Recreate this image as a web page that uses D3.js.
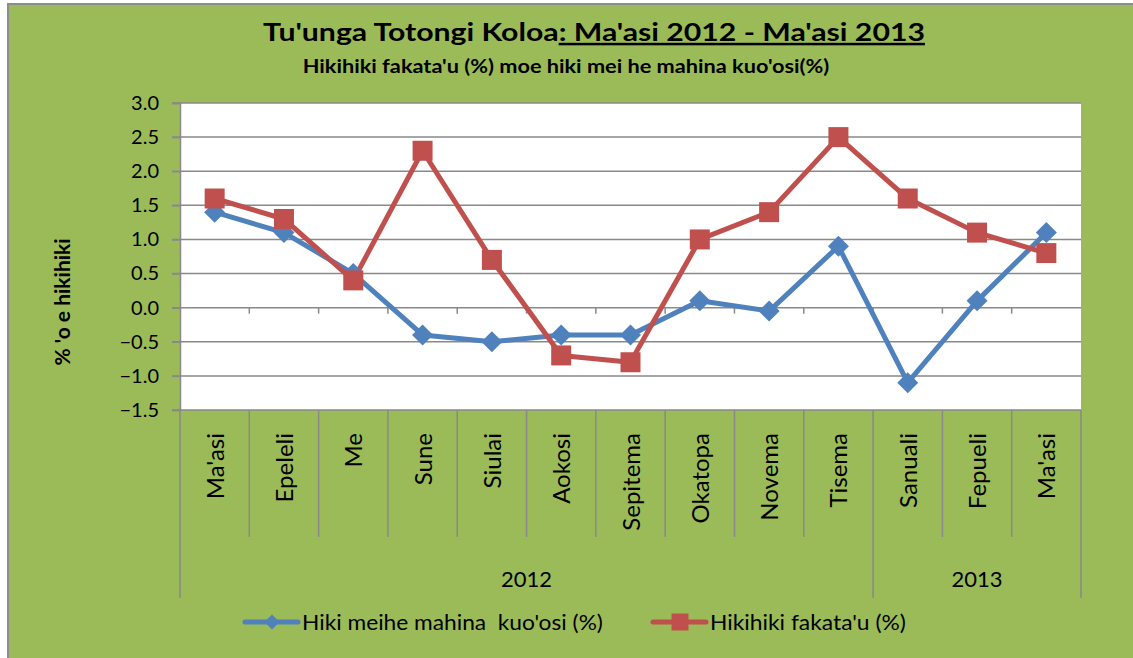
<!DOCTYPE html>
<html>
<head>
<meta charset="utf-8">
<script src="https://cdn.jsdelivr.net/npm/d3@7"></script>
<style>
  body { margin: 0; background: #fff; }
  svg text { font-family: Lato, "Open Sans", sans-serif; fill: #000; white-space: pre; }
</style>
</head>
<body>
<div id="chart"></div>
<script>
/**
 * data
 */
const MONTHS = ["Ma'asi", "Epeleli", "Me", "Sune", "Siulai", "Aokosi", "Sepitema",
                "Okatopa", "Novema", "Tisema", "Sanuali", "Fepueli", "Ma'asi"];
const YEARS = ["2012", "2013"];
const YEAR_SPAN = [10, 3];
const MONTHLY = [1.4, 1.1, 0.5, -0.4, -0.5, -0.4, -0.4, 0.1, -0.05, 0.9, -1.1, 0.1, 1.1];
const ANNUAL = [1.6, 1.3, 0.4, 2.3, 0.7, -0.7, -0.8, 1.0, 1.4, 2.5, 1.6, 1.1, 0.8];
const Y_TICKS = [3.0, 2.5, 2.0, 1.5, 1.0, 0.5, 0.0, -0.5, -1.0, -1.5];
const SERIES_NAMES = ["Hiki meihe mahina  kuo'osi (%)", "Hikihiki fakata'u (%)"];

/**
 * layout constants
 */
const WIDTH = 1133;
const HEIGHT = 658;
const LEFT = 180, RIGHT = 1081, TOP = 103, BOTTOM = 410;
const GRID = "#898989";
const BLUE = "#4F81BD";
const RED = "#C0504D";

const svg = d3.select("#chart").append("svg")
    .attr("width", WIDTH)
    .attr("height", HEIGHT);

// chart area frame
svg.append("rect")
    .attr("x", 8).attr("y", 4)
    .attr("width", WIDTH).attr("height", HEIGHT)
    .attr("fill", "#9BBB59")
    .attr("stroke", "#8c8c8c")
    .attr("stroke-width", 2);

const x = d3.scaleBand()
    .domain(d3.range(MONTHS.length))
    .range([LEFT, RIGHT])
    .padding(0);
const cx = i => x(i) + x.bandwidth() / 2;

const y = d3.scaleLinear()
    .domain([-1.5, 3])
    .range([BOTTOM, TOP]);

// fit a text element horizontally into a given width
function fitWidth(t, xPos, yPos, w) {
    const bw = t.node().getBBox().width;
    t.attr("x", 0).attr("y", 0)
        .attr("transform", `translate(${xPos},${yPos}) scale(${w / bw},1)`);
}

// plot area
svg.append("rect")
    .attr("x", LEFT).attr("y", TOP)
    .attr("width", RIGHT - LEFT).attr("height", BOTTOM - TOP)
    .attr("fill", "#fff");

// gridlines
svg.append("g").selectAll("line")
    .data(Y_TICKS)
    .join("line")
    .attr("x1", LEFT - 8).attr("x2", RIGHT)
    .attr("y1", d => y(d)).attr("y2", d => y(d))
    .attr("stroke", GRID).attr("stroke-width", 1.5);

// y axis
const yAxis = svg.append("g")
    .attr("transform", `translate(${LEFT},0)`)
    .call(d3.axisLeft(y).tickValues(Y_TICKS).tickFormat(d3.format(".1f")).tickSize(8).tickPadding(13));
yAxis.select(".domain").attr("stroke", GRID).attr("stroke-width", 1.5);
yAxis.selectAll(".tick line").attr("stroke", GRID).attr("stroke-width", 1.5);
yAxis.selectAll("text")
    .style("font-size", "20px")
    .attr("fill", "#000");

// category ticks on the zero line
svg.append("g").selectAll("line")
    .data(d3.range(1, MONTHS.length))
    .join("line")
    .attr("x1", d => x(d)).attr("x2", d => x(d))
    .attr("y1", y(0)).attr("y2", y(0) + 6)
    .attr("stroke", GRID).attr("stroke-width", 1.5);

// multi-level category axis
const yearEdges = [0];
YEAR_SPAN.forEach((n, i) => yearEdges.push(yearEdges[i] + n));
const edgeX = i => i >= MONTHS.length ? RIGHT : x(i);

svg.append("g").selectAll("line")
    .data(d3.range(0, MONTHS.length + 1))
    .join("line")
    .attr("x1", d => edgeX(d)).attr("x2", d => edgeX(d))
    .attr("y1", BOTTOM)
    .attr("y2", d => yearEdges.includes(d) ? 598 : 537)
    .attr("stroke", GRID).attr("stroke-width", 1.5);

svg.append("g").selectAll("text")
    .data(MONTHS)
    .join("text")
    .attr("transform", (d, i) => `translate(${cx(i) + 9},433) rotate(-90)`)
    .attr("text-anchor", "end")
    .style("font-size", "24px")
    .text(d => d);

svg.append("g").selectAll("text")
    .data(YEARS)
    .join("text")
    .attr("x", (d, i) => (edgeX(yearEdges[i]) + edgeX(yearEdges[i + 1])) / 2)
    .attr("y", 587)
    .attr("text-anchor", "middle")
    .style("font-size", "22px")
    .text(d => d);

// lines and markers
const line = d3.line()
    .x((d, i) => cx(i))
    .y(d => y(d));

const series = [
    {name: SERIES_NAMES[0], values: MONTHLY, color: BLUE, shape: "diamond"},
    {name: SERIES_NAMES[1], values: ANNUAL, color: RED, shape: "square"}
];

series.forEach(s => {
    svg.append("path")
        .datum(s.values)
        .attr("d", line)
        .attr("fill", "none")
        .attr("stroke", s.color)
        .attr("stroke-width", 5)
        .attr("stroke-linejoin", "round");
});

function marker(sel, shape, size) {
    if (shape === "diamond") {
        sel.attr("d", d3.symbol().type(d3.symbolSquare).size(size * size / 2))
            .attr("transform", function() {
                return d3.select(this).attr("transform") + " rotate(45)";
            });
    } else {
        sel.attr("d", d3.symbol().type(d3.symbolSquare).size(size * size));
    }
}

series.forEach(s => {
    const m = svg.append("g").selectAll("path")
        .data(s.values)
        .join("path")
        .attr("transform", (d, i) => `translate(${cx(i)},${y(d)})`)
        .attr("fill", s.color);
    marker(m, s.shape, s.shape === "diamond" ? 21 : 20);
});

// legend
const legendX = [245, 653];
const legendW = [301, 196];
series.forEach((s, i) => {
    const g = svg.append("g").attr("transform", `translate(${legendX[i]},622)`);
    g.append("line")
        .attr("x1", 0).attr("x2", 53)
        .attr("stroke", s.color).attr("stroke-width", 5)
        .attr("stroke-linecap", "round");
    const m = g.append("path")
        .attr("transform", "translate(27,0)")
        .attr("fill", s.color);
    marker(m, s.shape, s.shape === "diamond" ? 15 : 17);
    const t = g.append("text")
        .style("font-size", "21px")
        .text(s.name);
    fitWidth(t, 57, 8, legendW[i]);
});

// titles
const title = svg.append("text")
    .attr("text-anchor", "middle")
    .style("font-size", "25px")
    .style("font-weight", "bold");
title.append("tspan").text("Tu'unga Totongi Koloa");
title.append("tspan").text(": Ma'asi 2012 - Ma'asi 2013")
    .style("text-decoration", "underline");
fitWidth(title, 594, 41, 662);

const subtitle = svg.append("text")
    .attr("text-anchor", "middle")
    .style("font-size", "18px")
    .style("font-weight", "bold")
    .text("Hikihiki fakata'u (%) moe hiki mei he mahina kuo'osi(%)");
fitWidth(subtitle, 566, 73, 527);

svg.append("text")
    .attr("transform", "translate(70,302) rotate(-90)")
    .attr("text-anchor", "middle")
    .style("font-size", "21px")
    .style("font-weight", "bold")
    .text("% 'o e hikihiki");
</script>
</body>
</html>
